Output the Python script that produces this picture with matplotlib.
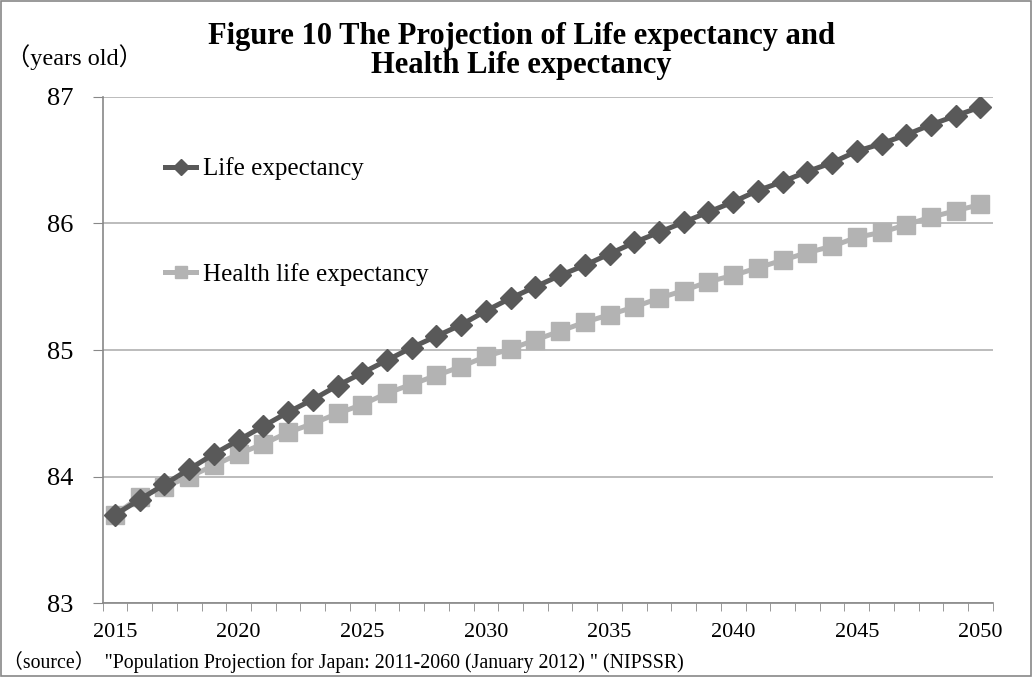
import numpy as np
import matplotlib.pyplot as plt
from matplotlib.patches import Rectangle

years = list(range(2015, 2051))

life_exp = [83.70, 83.82, 83.94, 84.06, 84.18, 84.29, 84.40, 84.51, 84.61, 84.72,
            84.82, 84.92, 85.02, 85.11, 85.20, 85.31, 85.41, 85.50, 85.59, 85.67,
            85.76, 85.85, 85.93, 86.01, 86.09, 86.17, 86.26, 86.33, 86.41, 86.48,
            86.57, 86.63, 86.70, 86.78, 86.85, 86.92]

health_life_exp = [83.70, 83.84, 83.92, 84.00, 84.09, 84.18, 84.26, 84.35, 84.42, 84.50,
                   84.57, 84.66, 84.73, 84.80, 84.87, 84.95, 85.01, 85.08, 85.15, 85.22,
                   85.28, 85.34, 85.41, 85.47, 85.54, 85.59, 85.65, 85.71, 85.77, 85.82,
                   85.89, 85.93, 85.99, 86.05, 86.10, 86.15]

yticks = [83, 84, 85, 86, 87]

serif = ['Liberation Serif', 'Noto Sans CJK JP']
plt.rcParams['font.family'] = serif

fig = plt.figure(figsize=(10.32, 6.77), dpi=100)
ax = fig.add_axes([0.0995, 0.1087, 0.8625, 0.7483])

x = np.arange(len(years))
ax.plot(x, health_life_exp, '-s', color='#b3b3b3', lw=3.6, ms=12.5, mec='#b3b3b3',
        label='Health life expectancy', zorder=3)
ax.plot(x, life_exp, '-D', color='#595959', lw=3.6, ms=11, mec='#595959',
        label='Life expectancy', zorder=4)

ax.set_xlim(-0.5, len(years) - 0.5)
ax.set_ylim(83, 87)
ax.set_yticks(yticks)
ax.set_yticklabels([str(v) for v in yticks], fontsize=19)
ax.yaxis.grid(True, color='#b0b0b0', lw=1.2)
ax.set_axisbelow(True)

ax.set_xticks(x[::5])
ax.set_xticklabels([str(y) for y in years[::5]], fontsize=16)
ax.set_xticks(np.arange(-0.5, len(years), 1.0), minor=True)
ax.tick_params(axis='x', which='major', length=0, pad=14)
ax.tick_params(axis='x', which='minor', length=6, color='#888888', direction='out')
ax.tick_params(axis='y', length=7, color='#888888', pad=14)

for s in ['top', 'right']:
    ax.spines[s].set_visible(False)
for s in ['left', 'bottom']:
    ax.spines[s].set_color('#888888')
    ax.spines[s].set_linewidth(1.2)

h, l = ax.get_legend_handles_labels()
leg = ax.legend(h[::-1], l[::-1], loc='upper left', bbox_to_anchor=(0.045, 0.925),
                frameon=False, fontsize=18, labelspacing=3.3, handlelength=1.25,
                handletextpad=0.25, markerscale=0.7)

fig.text(0.505, 0.925, 'Figure 10 The Projection of Life expectancy and\nHealth Life expectancy',
         ha='center', va='center', fontsize=22, fontweight='bold', linespacing=0.98)
fig.text(0.006, 0.915, '（years old）', ha='left', va='center', fontsize=17.5, family=serif)
fig.text(0.003, 0.022, '（source）  "Population Projection for Japan: 2011-2060 (January 2012) " (NIPSSR)',
         ha='left', va='center', fontsize=14.3, family=serif)

fig.patches.append(Rectangle((0.001, 0.001), 0.998, 0.998, transform=fig.transFigure,
                             fill=False, edgecolor='#888888', lw=1.2))

fig.savefig('out.png', dpi=100)
